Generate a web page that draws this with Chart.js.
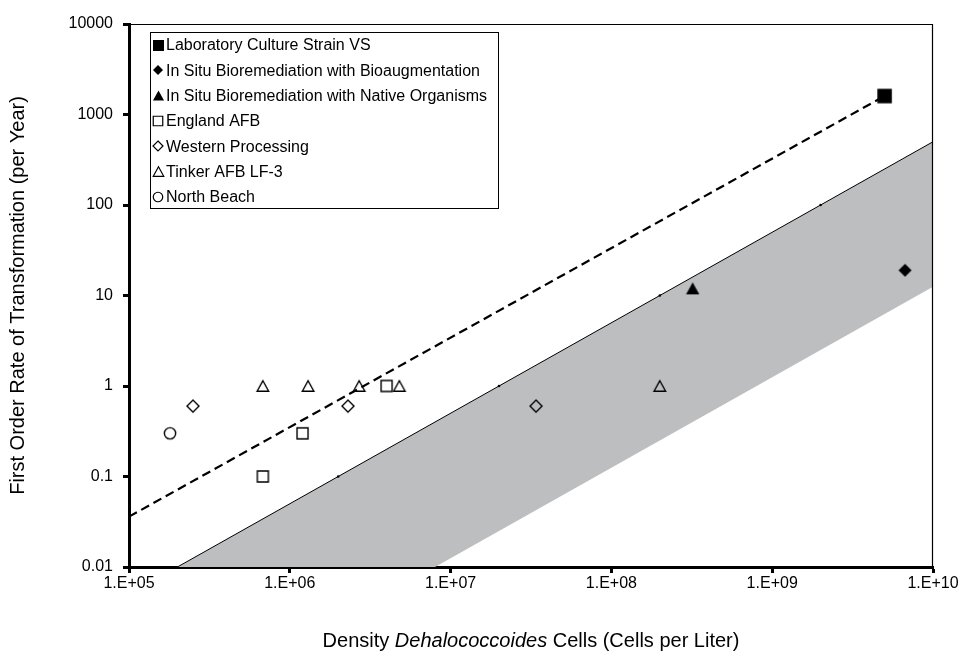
<!DOCTYPE html>
<html>
<head>
<meta charset="utf-8">
<script src="https://cdn.jsdelivr.net/npm/chart.js@4.4.0/dist/chart.umd.min.js"></script>
<style>
  html, body { margin: 0; padding: 0; background: #fff; }
</style>
</head>
<body>
<canvas id="chart" width="965" height="659"></canvas>
<script>
// values
const labVSx = [5.0e9];
const labVSy = [1600];
const bioaugX = [6.7e9];
const bioaugY = [19];
const nativeX = [3.2e8];
const nativeY = [12];
const englandX = [6.8e5, 1.2e6, 4.0e6];
const englandY = [0.1, 0.3, 1];
const westernX = [2.5e5, 2.3e6, 3.4e7];
const westernY = [0.6, 0.6, 0.6];
const tinkerX = [6.8e5, 1.3e6, 2.7e6, 4.8e6, 2.0e8];
const tinkerY = [1, 1, 1, 1, 1];
const northBeachX = [1.8e5];
const northBeachY = [0.3];

// trend lines and the shaded band
const dashedX = [1e5, 5e9];
const dashedY = [0.036, 1600];
const upperX = [2e5, 2e6, 2e7, 2e8, 2e9, 1e10];
const upperY = [0.01, 0.1, 1, 10, 100, 500];
const lowerX = [8e6, 1e10];
const lowerY = [0.01, 12.5];

const seriesNames = [
  'Laboratory Culture Strain VS',
  'In Situ Bioremediation with Bioaugmentation',
  'In Situ Bioremediation with Native Organisms',
  'England AFB',
  'Western Processing',
  'Tinker AFB LF-3',
  'North Beach'
];

const xTicks = [1e5, 1e6, 1e7, 1e8, 1e9, 1e10];
const xTickLabels = ['1.E+05', '1.E+06', '1.E+07', '1.E+08', '1.E+09', '1.E+10'];
const yTicks = [0.01, 0.1, 1, 10, 100, 1000, 10000];
const yTickLabels = ['0.01', '0.1', '1', '10', '100', '1000', '10000'];

const yTitle = 'First Order Rate of Transformation (per Year)';
const xTitleParts = ['Density ', 'Dehalococcoides', ' Cells (Cells per Liter)'];

const FONT = '"Liberation Sans", Arial, sans-serif';
const TITLE_SIZE = 20;

const pts = (xs, ys) => xs.map((x, i) => ({ x: x, y: ys[i] }));

// marker images, centred on their bounding box like the spreadsheet markers
function marker(shape, size, filled, lw) {
  const pad = Math.ceil(lw) + 2;
  const n = Math.ceil(size) + pad * 2;
  const c = document.createElement('canvas');
  c.width = n; c.height = n;
  const g = c.getContext('2d');
  const m = n / 2, h = size / 2;
  g.beginPath();
  if (shape === 'square') {
    g.rect(m - h, m - h, size, size);
  } else if (shape === 'diamond') {
    g.moveTo(m, m - h); g.lineTo(m + h, m); g.lineTo(m, m + h); g.lineTo(m - h, m); g.closePath();
  } else if (shape === 'triangle') {
    const hh = h * 0.92;
    g.moveTo(m, m - hh); g.lineTo(m + h, m + hh); g.lineTo(m - h, m + hh); g.closePath();
  } else {
    g.arc(m, m, h, 0, Math.PI * 2);
  }
  if (filled) {
    g.fillStyle = '#000';
    g.fill();
  } else {
    g.strokeStyle = '#000';
    g.lineWidth = lw;
    g.stroke();
  }
  return c;
}

const chartMarkers = [
  marker('square', 14.5, true, 0),
  marker('diamond', 13, true, 0),
  marker('triangle', 13.3, true, 0),
  marker('square', 11, false, 1.4),
  marker('diamond', 12, false, 1.4),
  marker('triangle', 11.5, false, 1.4),
  marker('circle', 11.3, false, 1.4)
];
const legendMarkers = [
  marker('square', 11, true, 0),
  marker('diamond', 10, true, 0),
  marker('triangle', 11, true, 0),
  marker('square', 9.5, false, 1.2),
  marker('diamond', 10, false, 1.2),
  marker('triangle', 10.5, false, 1.2),
  marker('circle', 9.5, false, 1.2)
];

const seriesData = [
  pts(labVSx, labVSy),
  pts(bioaugX, bioaugY),
  pts(nativeX, nativeY),
  pts(englandX, englandY),
  pts(westernX, westernY),
  pts(tinkerX, tinkerY),
  pts(northBeachX, northBeachY)
];

const scatterSets = seriesData.map((d, i) => ({
  label: seriesNames[i],
  data: d,
  pointStyle: chartMarkers[i],
  pointRadius: 7,
  showLine: false
}));

// band polygon: along the upper line, then back along the lower one
const bandX = [upperX[0], upperX[upperX.length - 1]].concat(lowerX.slice().reverse());
const bandY = [upperY[0], upperY[upperY.length - 1]].concat(lowerY.slice().reverse());

const lineSets = [
  {
    label: 'dashed',
    data: pts(dashedX, dashedY),
    showLine: true,
    borderColor: '#000',
    borderWidth: 2.2,
    borderDash: [9, 5],
    pointRadius: 0
  },
  {
    label: 'upper',
    data: pts(upperX, upperY),
    showLine: true,
    borderColor: '#000',
    borderWidth: 1,
    pointRadius: [0, 1.3, 1.3, 1.3, 1.3, 0],
    pointBackgroundColor: '#000',
    pointBorderWidth: 0
  },
  {
    label: 'band',
    data: pts(bandX, bandY),
    showLine: true,
    borderWidth: 0,
    borderColor: 'rgba(0,0,0,0)',
    backgroundColor: '#bdbec0',
    fill: 'shape',
    pointRadius: 0
  }
];

const framePlugin = {
  id: 'frame',
  afterDatasetsDraw(chart) {
    const ctx = chart.ctx, a = chart.chartArea;
    ctx.save();
    ctx.strokeStyle = '#000';
    ctx.lineWidth = 1.2;
    ctx.beginPath();
    ctx.moveTo(a.left, a.top + 0.5);
    ctx.lineTo(a.right - 0.5, a.top + 0.5);
    ctx.lineTo(a.right - 0.5, a.bottom);
    ctx.stroke();
    ctx.restore();
  }
};

const legendPlugin = {
  id: 'boxLegend',
  afterDraw(chart) {
    const ctx = chart.ctx;
    ctx.save();
    ctx.fillStyle = '#fff';
    ctx.fillRect(150.5, 32.5, 348, 176);
    ctx.strokeStyle = '#000';
    ctx.lineWidth = 1;
    ctx.strokeRect(150.5, 32.5, 348, 176);
    ctx.font = '16px ' + FONT;
    ctx.fillStyle = '#000';
    ctx.textBaseline = 'middle';
    ctx.textAlign = 'left';
    seriesNames.forEach((name, i) => {
      const y = 45 + i * 25.3;
      const m = legendMarkers[i];
      ctx.drawImage(m, Math.round(158 - m.width / 2), Math.round(y - m.height / 2));
      ctx.fillText(name, 166, y + 1);
    });
    ctx.restore();
  }
};

const titlesPlugin = {
  id: 'axisTitles',
  afterDraw(chart) {
    const ctx = chart.ctx, a = chart.chartArea;
    ctx.save();
    ctx.fillStyle = '#000';
    ctx.textBaseline = 'middle';
    ctx.font = TITLE_SIZE + 'px ' + FONT;
    ctx.translate(18, (a.top + a.bottom) / 2);
    ctx.rotate(-Math.PI / 2);
    ctx.textAlign = 'center';
    ctx.fillText(yTitle, 0, 0);
    ctx.restore();

    ctx.save();
    ctx.fillStyle = '#000';
    ctx.textBaseline = 'middle';
    ctx.textAlign = 'left';
    const fonts = [TITLE_SIZE + 'px ' + FONT, 'italic ' + TITLE_SIZE + 'px ' + FONT, TITLE_SIZE + 'px ' + FONT];
    let total = 0;
    const widths = xTitleParts.map((t, i) => {
      ctx.font = fonts[i];
      const w = ctx.measureText(t).width;
      total += w;
      return w;
    });
    let x = (a.left + a.right) / 2 - total / 2;
    xTitleParts.forEach((t, i) => {
      ctx.font = fonts[i];
      ctx.fillText(t, x, 641);
      x += widths[i];
    });
    ctx.restore();
  }
};

new Chart(document.getElementById('chart'), {
  type: 'scatter',
  data: { datasets: scatterSets.concat(lineSets) },
  options: {
    responsive: false,
    animation: false,
    devicePixelRatio: 1,
    layout: { padding: { left: 0, right: 32, top: 24, bottom: 0 } },
    plugins: {
      legend: { display: false },
      tooltip: { enabled: false }
    },
    scales: {
      x: {
        type: 'logarithmic',
        min: 1e5,
        max: 1e10,
        afterBuildTicks: s => { s.ticks = xTicks.map(v => ({ value: v })); },
        afterFit: s => { s.height = 92; },
        ticks: {
          autoSkip: false,
          maxRotation: 0,
          padding: 1,
          color: '#000',
          font: { family: FONT, size: 16 },
          callback: (v, i) => xTickLabels[i]
        },
        grid: { drawOnChartArea: false, drawTicks: true, tickLength: 6, tickWidth: 3, tickColor: '#000' },
        border: { display: true, color: '#000', width: 3 }
      },
      y: {
        type: 'logarithmic',
        min: 0.01,
        max: 10000,
        afterBuildTicks: s => { s.ticks = yTicks.map(v => ({ value: v })); },
        afterFit: s => { s.width = 129; },
        ticks: {
          autoSkip: false,
          padding: 10,
          color: '#000',
          font: { family: FONT, size: 16 },
          callback: (v, i) => yTickLabels[i]
        },
        grid: { drawOnChartArea: false, drawTicks: true, tickLength: 6, tickWidth: 3, tickColor: '#000' },
        border: { display: true, color: '#000', width: 3 }
      }
    }
  },
  plugins: [framePlugin, legendPlugin, titlesPlugin]
});
</script>
</body>
</html>
